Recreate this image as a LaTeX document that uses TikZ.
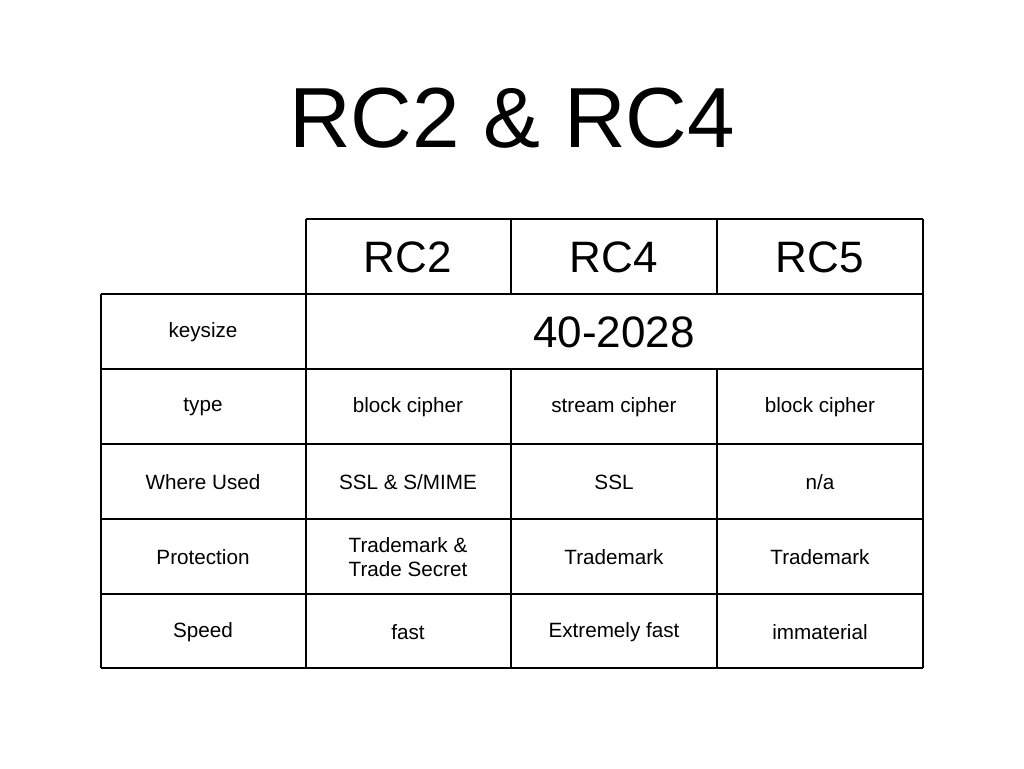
\documentclass[tikz,border=0pt]{standalone}
\usepackage{fontspec}
\setmainfont{Liberation Sans}
\begin{document}
\begin{tikzpicture}[x=0.75pt,y=-0.75pt,
  cell/.style={font=\fontsize{15.5}{18}\selectfont,align=center},
  head/.style={font=\fontsize{33}{38}\selectfont},
  grid/.style={line width=1.6pt}]
\useasboundingbox (0,0) rectangle (1024,768);
\node[font=\fontsize{64}{70}\selectfont] (title) at (512,118) {RC2 \& RC4};
% grid
\draw[grid] (306,219) -- (923,219);
\draw[grid] (101,294) -- (923,294);
\foreach \y in {369,444,519,594,668} \draw[grid] (101,\y) -- (923,\y);
\draw[grid] (101,294) -- (101,668);
\draw[grid] (306,219) -- (306,668);
\draw[grid] (511,219) -- (511,294);
\draw[grid] (511,369) -- (511,668);
\draw[grid] (717,219) -- (717,294);
\draw[grid] (717,369) -- (717,668);
\draw[grid] (923,219) -- (923,668);
% headers
\node[head] (h2) at (408,257) {RC2};
\node[head] (h4) at (614,257) {RC4};
\node[head] (h5) at (820,257) {RC5};
\node[cell] (r1) at (203,332) {keysize};
\node[head] (ks) at (614,332) {40-2028};
\node[cell] (r2) at (203,407) {type};
\node[cell] (c21) at (408,407) {block cipher};
\node[cell] (c22) at (614,407) {stream cipher};
\node[cell] (c23) at (820,407) {block cipher};
\node[cell] (r3) at (203,482) {Where Used};
\node[cell] (c31) at (408,482) {SSL \& S/MIME};
\node[cell] (c32) at (614,482) {SSL};
\node[cell] (c33) at (820,482) {n/a};
\node[cell] (r4) at (203,557) {Protection};
\node[cell] (c41) at (408,557) {Trademark \&\\Trade Secret};
\node[cell] (c42) at (614,557) {Trademark};
\node[cell] (c43) at (820,557) {Trademark};
\node[cell] (r5) at (203,632) {Speed};
\node[cell] (c51) at (408,632) {fast};
\node[cell] (c52) at (614,632) {Extremely fast};
\node[cell] (c53) at (820,632) {immaterial};
\end{tikzpicture}
\end{document}
